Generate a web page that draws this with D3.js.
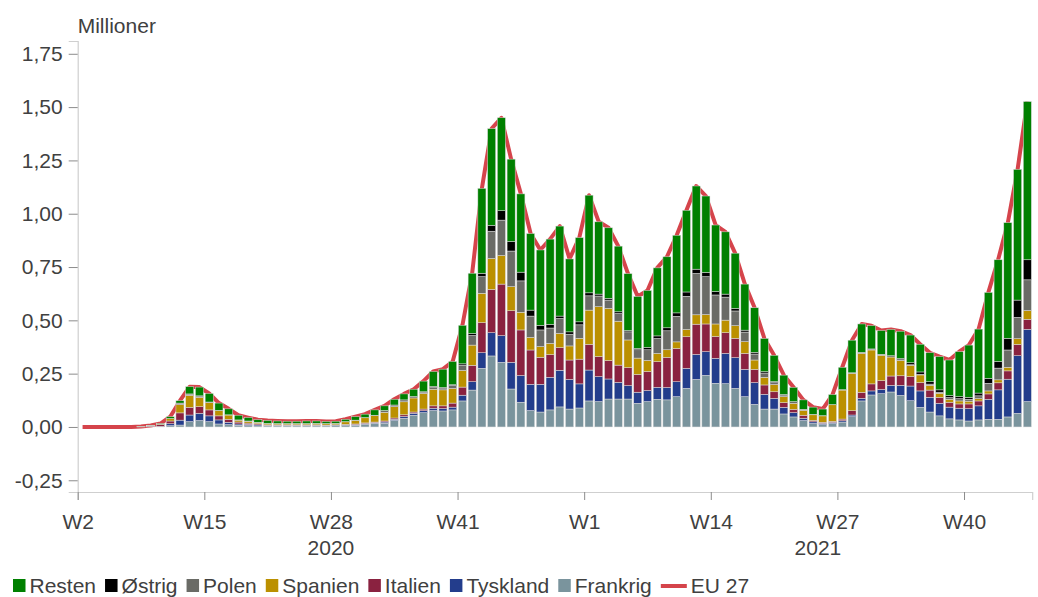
<!DOCTYPE html>
<html>
<head>
<meta charset="utf-8">
<script src="https://cdn.jsdelivr.net/npm/d3@7"></script>
<style>
  body { margin: 0; background: #fff; }
  text { font-family: "Liberation Sans", Arial, sans-serif; }
</style>
</head>
<body>
<div id="chart"></div>
<script>
var svgWidth = 1038;
var svgHeight = 597;

// weeks: 2020 W2..W53, 2021 W1..W46
var weeks = [].concat(
  d3.range(2, 54).map(w => "2020 W" + w),
  d3.range(1, 47).map(w => "2021 W" + w)
);

var tickIndex = [0, 13, 26, 39, 52, 65, 78, 91];
var tickLabels = ["W2", "W15", "W28", "W41", "W1", "W14", "W27", "W40"];
var years = ["2020", "2021"];

// millions, one value per week
var frankrig = [
  0, 0, 0, 0, 0, 0, 0, 0.001, 0.002, 0.006,
  0.009, 0.025, 0.030, 0.025, 0.014, 0.011, 0.008, 0.006, 0.005, 0.005,
  0.005, 0.005, 0.005, 0.005, 0.005, 0.005, 0.006, 0.006, 0.008, 0.012,
  0.015, 0.017, 0.030, 0.041, 0.055, 0.067, 0.077, 0.075, 0.080, 0.122,
  0.173, 0.275, 0.333, 0.303, 0.178, 0.116, 0.077, 0.070, 0.080, 0.094,
  0.084, 0.089, 0.122, 0.119, 0.131, 0.131, 0.131, 0.111, 0.119, 0.130,
  0.127, 0.142, 0.181, 0.223, 0.242, 0.205, 0.203, 0.181, 0.142, 0.106,
  0.084, 0.084, 0.061, 0.047, 0.030, 0.016, 0.011, 0.016, 0.023, 0.048,
  0.122, 0.150, 0.156, 0.164, 0.148, 0.123, 0.092, 0.070, 0.052, 0.038,
  0.033, 0.028, 0.033, 0.036, 0.036, 0.047, 0.064, 0.119
];
var tyskland = [
  0, 0, 0, 0, 0, 0, 0, 0.001, 0.001, 0.009,
  0.023, 0.031, 0.034, 0.027, 0.019, 0.011, 0.006, 0.006, 0.005, 0.003,
  0.003, 0.003, 0.003, 0.003, 0.003, 0.003, 0.003, 0.003, 0.003, 0.004,
  0.004, 0.006, 0.006, 0.008, 0.009, 0.009, 0.011, 0.011, 0.013, 0.027,
  0.039, 0.073, 0.109, 0.125, 0.125, 0.125, 0.123, 0.130, 0.153, 0.172,
  0.139, 0.113, 0.145, 0.117, 0.094, 0.078, 0.063, 0.052, 0.052, 0.056,
  0.058, 0.070, 0.094, 0.117, 0.111, 0.117, 0.142, 0.144, 0.128, 0.102,
  0.069, 0.050, 0.031, 0.020, 0.011, 0.008, 0.006, 0.005, 0.006, 0.008,
  0.012, 0.019, 0.020, 0.031, 0.047, 0.069, 0.077, 0.069, 0.059, 0.055,
  0.055, 0.058, 0.066, 0.094, 0.138, 0.177, 0.270, 0.339
];
var italien = [
  0, 0, 0, 0, 0, 0, 0.001, 0.003, 0.008, 0.013,
  0.034, 0.036, 0.031, 0.028, 0.019, 0.014, 0.009, 0.006, 0.005, 0.002,
  0.002, 0.002, 0.002, 0.002, 0.002, 0.001, 0.001, 0.003, 0.003, 0.003,
  0.004, 0.005, 0.006, 0.008, 0.006, 0.008, 0.011, 0.013, 0.019, 0.038,
  0.077, 0.141, 0.203, 0.242, 0.242, 0.214, 0.161, 0.127, 0.106, 0.106,
  0.091, 0.116, 0.120, 0.094, 0.086, 0.081, 0.084, 0.083, 0.089, 0.120,
  0.141, 0.156, 0.148, 0.142, 0.130, 0.102, 0.097, 0.091, 0.075, 0.062,
  0.044, 0.031, 0.022, 0.016, 0.014, 0.006, 0.005, 0.005, 0.008, 0.020,
  0.028, 0.033, 0.041, 0.044, 0.045, 0.044, 0.039, 0.034, 0.028, 0.023,
  0.020, 0.022, 0.023, 0.025, 0.033, 0.039, 0.053, 0.047
];
var spanien = [
  0, 0, 0, 0, 0, 0, 0, 0.001, 0.002, 0.011,
  0.039, 0.056, 0.044, 0.034, 0.025, 0.020, 0.009, 0.009, 0.006, 0.006,
  0.005, 0.005, 0.005, 0.005, 0.006, 0.006, 0.006, 0.012, 0.017, 0.024,
  0.030, 0.041, 0.053, 0.061, 0.066, 0.073, 0.078, 0.075, 0.069, 0.078,
  0.095, 0.138, 0.145, 0.134, 0.113, 0.083, 0.059, 0.050, 0.053, 0.067,
  0.066, 0.098, 0.161, 0.234, 0.245, 0.206, 0.130, 0.077, 0.052, 0.039,
  0.036, 0.031, 0.034, 0.044, 0.044, 0.059, 0.059, 0.059, 0.055, 0.044,
  0.036, 0.034, 0.028, 0.028, 0.023, 0.027, 0.030, 0.078, 0.136, 0.175,
  0.183, 0.159, 0.119, 0.089, 0.072, 0.053, 0.036, 0.022, 0.019, 0.014,
  0.014, 0.013, 0.011, 0.014, 0.014, 0.017, 0.027, 0.041
];
var polen = [
  0, 0, 0, 0, 0, 0, 0, 0, 0, 0.001,
  0.005, 0.006, 0.006, 0.002, 0.001, 0.001, 0.001, 0.001, 0.001, 0.001,
  0.001, 0.001, 0.001, 0.001, 0.001, 0.001, 0.001, 0.001, 0.001, 0.001,
  0.002, 0.007, 0.008, 0.009, 0.006, 0.005, 0.008, 0.006, 0.014, 0.025,
  0.045, 0.078, 0.128, 0.166, 0.167, 0.147, 0.100, 0.078, 0.072, 0.070,
  0.055, 0.063, 0.067, 0.050, 0.039, 0.036, 0.038, 0.039, 0.050, 0.070,
  0.089, 0.120, 0.156, 0.194, 0.178, 0.136, 0.108, 0.069, 0.045, 0.028,
  0.020, 0.009, 0.008, 0.008, 0.005, 0.002, 0.001, 0.001, 0.002, 0.003,
  0.005, 0.003, 0.005, 0.006, 0.003, 0.003, 0.003, 0.006, 0.005, 0.008,
  0.011, 0.009, 0.013, 0.036, 0.055, 0.081, 0.100, 0.144
];
var ostrig = [
  0, 0, 0, 0, 0, 0, 0, 0, 0, 0,
  0.002, 0.001, 0.001, 0.001, 0, 0, 0, 0, 0, 0,
  0, 0, 0, 0, 0, 0, 0, 0, 0, 0,
  0, 0.001, 0, 0, 0.001, 0.003, 0.005, 0.005, 0.003, 0.006,
  0.009, 0.016, 0.028, 0.044, 0.045, 0.041, 0.028, 0.022, 0.017, 0.011,
  0.011, 0.014, 0.014, 0.009, 0.008, 0.008, 0.006, 0.006, 0.011, 0.012,
  0.014, 0.016, 0.020, 0.020, 0.020, 0.016, 0.014, 0.012, 0.009, 0.008,
  0.006, 0.005, 0.002, 0, 0, 0, 0, 0, 0, 0,
  0, 0.002, 0, 0, 0.006, 0.009, 0.011, 0.011, 0.011, 0.009,
  0.009, 0.009, 0.013, 0.023, 0.031, 0.055, 0.081, 0.094
];
var resten = [
  0, 0, 0, 0, 0, 0, 0.001, 0.001, 0.003, 0.008,
  0.011, 0.034, 0.041, 0.040, 0.034, 0.028, 0.022, 0.016, 0.012, 0.013,
  0.012, 0.011, 0.011, 0.012, 0.011, 0.010, 0.010, 0.011, 0.016, 0.016,
  0.025, 0.022, 0.027, 0.028, 0.034, 0.050, 0.070, 0.086, 0.109, 0.181,
  0.283, 0.398, 0.453, 0.436, 0.386, 0.367, 0.359, 0.353, 0.400, 0.422,
  0.342, 0.395, 0.458, 0.339, 0.331, 0.308, 0.267, 0.244, 0.267, 0.319,
  0.333, 0.364, 0.383, 0.390, 0.358, 0.312, 0.292, 0.259, 0.216, 0.209,
  0.156, 0.123, 0.091, 0.067, 0.044, 0.034, 0.031, 0.047, 0.105, 0.153,
  0.133, 0.109, 0.111, 0.123, 0.128, 0.130, 0.130, 0.136, 0.156, 0.167,
  0.211, 0.245, 0.300, 0.403, 0.477, 0.542, 0.613, 0.742
];

// bottom to top
var keys = ["Frankrig", "Tyskland", "Italien", "Spanien", "Polen", "Østrig", "Resten"];
var series = [frankrig, tyskland, italien, spanien, polen, ostrig, resten];
var colors = ["#7a949d", "#233d8c", "#8a2240", "#bb9000", "#6a6b66", "#000000", "#008000"];
var lineColor = "#d5444b";

var table = weeks.map(function(w, i) {
  var row = { week: w };
  keys.forEach((k, j) => row[k] = series[j][i]);
  return row;
});
var eu27 = table.map(row => d3.sum(keys, k => row[k]));

var svg = d3.select("#chart")
  .append("svg")
  .attr("width", svgWidth)
  .attr("height", svgHeight);

// scales
var x = d3.scaleBand()
  .domain(weeks)
  .range([77.7, 1032.2])
  .paddingInner(0.17)
  .paddingOuter(0.085);

var xi = d3.scaleLinear()
  .domain([0, weeks.length])
  .range(x.range());

var y = d3.scaleLinear()
  .domain([-0.305, 1.81])
  .range([492, 41]);

var fmt = d => d.toFixed(2).replace(".", ",");

// y axis
var yAxis = svg.append("g")
  .attr("transform", `translate(${xi(0)}, 0)`)
  .call(d3.axisLeft(y)
    .tickValues([-0.25, 0, 0.25, 0.5, 0.75, 1, 1.25, 1.5, 1.75])
    .tickSize(9)
    .tickPadding(6)
    .tickFormat(fmt));

// x axis
var xAxis = svg.append("g")
  .attr("transform", `translate(0, ${y.range()[0]})`)
  .call(d3.axisBottom(xi)
    .tickValues(tickIndex)
    .tickSize(8)
    .tickPadding(14)
    .tickFormat((d, i) => tickLabels[i]));

[yAxis, xAxis].forEach(function(ax) {
  ax.select(".domain").attr("stroke", "#cfcfcf").attr("stroke-width", 1.2);
  ax.selectAll(".tick line").attr("stroke", "#8c8c8c");
  ax.selectAll(".tick text")
    .attr("fill", "#404040")
    .attr("font-size", "21px")
    .attr("font-family", "Liberation Sans, Arial, sans-serif");
});

// year labels
svg.append("g").selectAll("text")
  .data(years)
  .enter()
  .append("text")
  .attr("x", (d, i) => i === 0 ? (xi(0) + xi(52)) / 2 : xi(76))
  .attr("y", 555)
  .attr("text-anchor", "middle")
  .attr("font-size", "21px")
  .attr("fill", "#404040")
  .text(d => d);

// unit label
svg.append("text")
  .attr("x", xi(0))
  .attr("y", 33)
  .attr("font-size", "21px")
  .attr("fill", "#404040")
  .text("Millioner");

// EU 27 line (behind bars)
var line = d3.line()
  .x((d, i) => x(weeks[i]) + x.bandwidth() / 2)
  .y(d => y(d));

svg.append("path")
  .datum(eu27)
  .attr("d", line)
  .attr("fill", "none")
  .attr("stroke", lineColor)
  .attr("stroke-width", 4)
  .attr("stroke-linejoin", "round");

// stacked bars
var stacked = d3.stack().keys(keys)(table);

svg.append("g")
  .selectAll("g")
  .data(stacked)
  .enter()
  .append("g")
  .attr("fill", (d, i) => colors[i])
  .selectAll("rect")
  .data(d => d)
  .enter()
  .append("rect")
  .attr("x", d => x(d.data.week))
  .attr("width", x.bandwidth())
  .attr("y", d => y(d[1]))
  .attr("height", d => Math.max(0, y(d[0]) - y(d[1])))
  .attr("stroke", "#dcdcdc")
  .attr("stroke-width", 0.5);

// legend
var legendItems = keys.slice().reverse().map((k, i) => ({ name: k, color: colors[keys.length - 1 - i], line: false }));
legendItems.push({ name: "EU 27", color: lineColor, line: true });

var legend = svg.append("g").attr("transform", "translate(13, 593)");
var lx = 0;
legendItems.forEach(function(item) {
  var g = legend.append("g").attr("transform", `translate(${lx}, 0)`);
  var sw = item.line ? 26 : 12.5;
  if (item.line) {
    g.append("rect").attr("x", 0).attr("y", -9).attr("width", sw).attr("height", 4).attr("fill", item.color);
  } else {
    g.append("rect").attr("x", 0).attr("y", -14).attr("width", sw).attr("height", 13).attr("fill", item.color);
  }
  var t = g.append("text")
    .attr("x", sw + 4)
    .attr("y", 0)
    .attr("font-size", "21px")
    .attr("fill", "#404040")
    .text(item.name);
  lx += sw + 4 + t.node().getComputedTextLength() + 9;
});
</script>
</body>
</html>
